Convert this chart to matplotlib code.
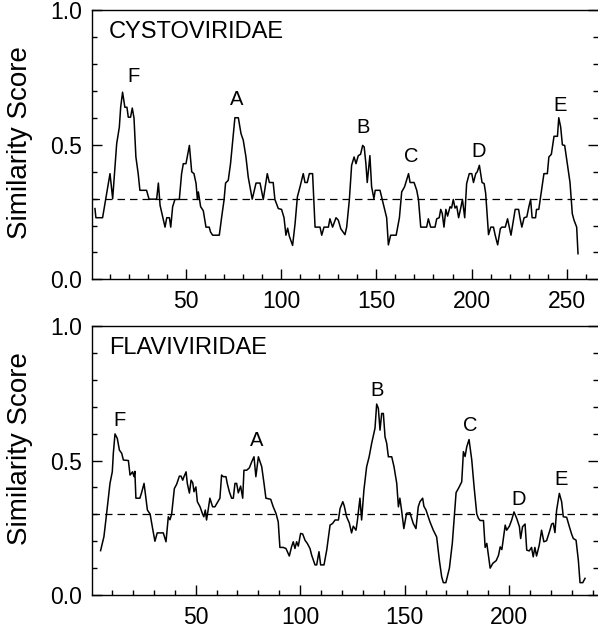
import matplotlib
matplotlib.use("Agg")
import matplotlib.pyplot as plt
from matplotlib.ticker import MultipleLocator, FixedLocator

plt.rcParams["font.family"] = ["Liberation Sans", "DejaVu Sans"]

# Cystoviridae similarity profile (position, score)
cysto_x = [
    2.2, 2.7, 6.2, 10.1, 11.5, 13.6, 15.0, 15.7, 16.7, 17.9, 19.0, 19.7, 20.9, 21.8, 22.7,
    23.7, 24.9, 25.8, 29.3, 30.6, 34.6, 35.5, 36.4, 37.8, 39.0, 39.9, 41.3, 42.0, 43.0, 44.2,
    46.5, 47.7, 48.6, 50.0, 51.8, 53.0, 54.2, 55.3, 56.0, 56.5, 57.7, 59.1, 60.5, 62.2, 62.9,
    64.0, 67.5, 68.7, 70.0, 70.8, 72.2, 73.4, 75.7, 77.5, 78.9, 80.1, 81.5, 82.7, 83.6, 84.8,
    86.8, 88.9, 90.6, 92.7, 93.8, 95.8, 96.7, 98.5, 100.2, 101.5, 102.5, 103.4, 104.3, 106.0,
    107.3, 108.5, 109.9, 111.6, 112.5, 113.7, 114.8, 116.5, 117.8, 120.4, 121.3, 122.5, 124.8,
    125.6, 127.0, 128.8, 130.0, 131.3, 133.5, 134.4, 135.8, 137.0, 138.3, 139.3, 140.5, 141.7,
    142.8, 143.6, 144.5, 145.2, 146.6, 147.5, 148.7, 149.4, 151.9, 153.3, 155.4, 156.3, 157.5,
    160.4, 162.1, 163.3, 164.8, 166.9, 167.7, 169.8, 171.2, 172.1, 173.3, 176.4, 177.3, 178.5,
    180.8, 181.7, 183.0, 183.8, 184.6, 185.5, 186.5, 187.4, 188.7, 189.5, 190.4, 191.3, 192.2,
    193.2, 194.3, 195.2, 196.4, 197.4, 198.8, 200.1, 201.0, 202.2, 203.0, 204.1, 205.5, 206.6,
    207.4, 208.9, 210.1, 211.5, 212.4, 213.7, 215.1, 215.9, 217.7, 218.9, 220.7, 222.1, 222.9,
    224.7, 225.4, 226.4, 227.6, 229.0, 230.1, 231.0, 231.8, 233.6, 234.1, 235.3, 236.6, 238.0,
    239.8, 240.6, 241.9, 243.3, 245.1, 245.8, 246.8, 247.7, 248.9, 250.3, 251.7, 252.9, 253.8,
    255.2, 255.9,
]
cysto_y = [
    0.263, 0.229, 0.229, 0.393, 0.300, 0.504, 0.566, 0.640, 0.696, 0.640, 0.640, 0.603, 0.603, 0.637, 0.600,
    0.455, 0.393, 0.331, 0.331, 0.298, 0.298, 0.358, 0.275, 0.232, 0.194, 0.229, 0.229, 0.194, 0.270, 0.297,
    0.297, 0.393, 0.430, 0.430, 0.498, 0.400, 0.393, 0.356, 0.297, 0.325, 0.270, 0.255, 0.194, 0.194, 0.176,
    0.164, 0.164, 0.229, 0.295, 0.358, 0.368, 0.430, 0.601, 0.601, 0.542, 0.517, 0.455, 0.380, 0.344, 0.298,
    0.358, 0.358, 0.297, 0.393, 0.360, 0.360, 0.297, 0.263, 0.260, 0.229, 0.164, 0.190, 0.160, 0.126,
    0.207, 0.306, 0.344, 0.393, 0.360, 0.360, 0.393, 0.393, 0.194, 0.194, 0.164, 0.194, 0.194,
    0.225, 0.194, 0.229, 0.220, 0.188, 0.166, 0.194, 0.295, 0.424, 0.455, 0.430, 0.460, 0.465,
    0.498, 0.492, 0.430, 0.360, 0.460, 0.344, 0.300, 0.331, 0.331, 0.290, 0.229, 0.128, 0.164,
    0.164, 0.229, 0.325, 0.344, 0.393, 0.360, 0.360, 0.331, 0.297, 0.194, 0.194, 0.225, 0.194,
    0.194, 0.225, 0.229, 0.260, 0.245, 0.194, 0.260, 0.235, 0.270, 0.265, 0.297, 0.265, 0.272,
    0.229, 0.265, 0.297, 0.229, 0.356, 0.393, 0.393, 0.360, 0.393, 0.400, 0.424, 0.360, 0.356,
    0.320, 0.166, 0.194, 0.194, 0.164, 0.128, 0.188, 0.194, 0.194, 0.225, 0.164, 0.225, 0.260,
    0.260, 0.229, 0.194, 0.229, 0.232, 0.270, 0.297, 0.229, 0.229, 0.260, 0.260, 0.325, 0.393,
    0.393, 0.455, 0.465, 0.532, 0.532, 0.601, 0.566, 0.500, 0.498, 0.430, 0.360, 0.244, 0.220,
    0.194, 0.095,
]

# Flaviviridae similarity profile (position, score)
flavi_x = [
    4.5, 6.1, 7.4, 9.0, 10.1, 10.6, 11.4, 12.5, 13.5, 14.6, 15.4, 17.8, 18.6, 19.8, 20.5, 20.9,
    21.4, 23.3, 24.1, 25.3, 26.2, 26.9, 28.2, 29.4, 30.5, 31.6, 34.5, 35.8, 36.9, 37.7, 38.5,
    39.8, 40.9, 42.2, 43.0, 43.8, 44.4, 45.4, 46.0, 47.0, 47.8, 48.6, 49.2, 50.1, 50.8, 52.1,
    53.3, 53.9, 54.6, 55.2, 56.0, 56.8, 58.1, 59.2, 60.3, 61.6, 62.4, 63.2, 64.5, 65.1, 66.1,
    67.2, 68.0, 68.8, 69.6, 70.4, 71.5, 72.5, 73.1, 74.4, 75.7, 76.8, 77.9, 78.8, 80.0, 81.6,
    82.7, 83.6, 85.9, 87.1, 88.4, 89.5, 90.3, 91.9, 93.2, 94.8, 95.9, 96.7, 97.5, 98.3, 99.1,
    100.2, 101.2, 102.3, 103.4, 104.7, 105.5, 107.1, 107.9, 109.0, 109.8, 111.4, 112.7, 114.3,
    115.5, 116.7, 118.3, 119.1, 120.4, 121.1, 122.2, 123.5, 124.6, 125.4, 126.7, 127.3, 128.6,
    129.4, 130.5, 131.8, 133.0, 134.2, 135.8, 136.6, 137.4, 138.2, 139.0, 139.8, 140.6, 141.4,
    142.2, 143.8, 144.9, 146.2, 147.0, 147.7, 148.5, 149.6, 150.9, 152.5, 154.1, 155.4, 156.5,
    157.3, 158.6, 159.2, 160.2, 162.1, 163.7, 165.3, 166.6, 167.7, 168.5, 169.7, 171.4, 172.8,
    173.6, 174.6, 175.7, 177.3, 178.1, 178.9, 179.7, 180.8, 182.1, 183.2, 184.5, 185.3, 186.1,
    187.7, 188.5, 189.3, 190.9, 192.2, 193.8, 194.9, 195.7, 196.5, 198.1, 198.8, 200.1, 201.2,
    202.3, 203.6, 204.9, 205.5, 206.4, 207.6, 208.4, 209.6, 210.7, 211.5, 212.3, 213.1, 214.4,
    215.5, 216.6, 217.9, 219.5, 220.3, 221.1, 221.9, 222.7, 224.0, 225.1, 225.9, 227.5, 228.8,
    229.9, 230.7, 232.0, 233.1, 233.9, 235.2, 236.3,
]
flavi_y = [
    0.165, 0.217, 0.304, 0.415, 0.458, 0.527, 0.599, 0.582, 0.539, 0.527, 0.502, 0.500, 0.446, 0.458, 0.440, 0.460,
    0.360, 0.360, 0.380, 0.415, 0.360, 0.316, 0.301, 0.247, 0.200, 0.231, 0.231, 0.198, 0.291, 0.280, 0.301,
    0.396, 0.412, 0.442, 0.442, 0.427, 0.440, 0.458, 0.415, 0.379, 0.427, 0.417, 0.384, 0.402, 0.347, 0.328,
    0.301, 0.291, 0.316, 0.279, 0.318, 0.360, 0.328, 0.328, 0.343, 0.360, 0.446, 0.440, 0.440, 0.415, 0.384,
    0.360, 0.360, 0.415, 0.415, 0.380, 0.405, 0.360, 0.464, 0.464, 0.473, 0.495, 0.514, 0.440, 0.514, 0.477,
    0.415, 0.360, 0.356, 0.328, 0.304, 0.272, 0.177, 0.177, 0.173, 0.145, 0.180, 0.198, 0.173, 0.198, 0.182,
    0.229, 0.227, 0.204, 0.192, 0.173, 0.148, 0.112, 0.112, 0.161, 0.112, 0.112, 0.167, 0.260,
    0.266, 0.279, 0.279, 0.322, 0.347, 0.331, 0.291, 0.268, 0.231, 0.256, 0.241, 0.272, 0.360,
    0.279, 0.391, 0.477, 0.514, 0.564, 0.620, 0.710, 0.694, 0.613, 0.675, 0.675, 0.588, 0.564,
    0.514, 0.514, 0.477, 0.415, 0.328, 0.360, 0.316, 0.247, 0.304, 0.306, 0.266, 0.247, 0.328,
    0.347, 0.360, 0.330, 0.316, 0.272, 0.241, 0.216, 0.129, 0.068, 0.046, 0.046, 0.100, 0.193,
    0.279, 0.381, 0.396, 0.421, 0.533, 0.515, 0.551, 0.578, 0.502, 0.403, 0.301, 0.285, 0.277,
    0.277, 0.177, 0.192, 0.100, 0.118, 0.128, 0.148, 0.179, 0.169, 0.260, 0.241, 0.256, 0.279,
    0.309, 0.285, 0.254, 0.210, 0.254, 0.264, 0.167, 0.164, 0.177, 0.142, 0.177, 0.145, 0.186,
    0.241, 0.198, 0.202, 0.241, 0.264, 0.267, 0.232, 0.315, 0.378, 0.347, 0.291, 0.289, 0.254,
    0.226, 0.210, 0.204, 0.129, 0.046, 0.046, 0.062,
]

threshold = 0.3

cysto_peaks = ["F", "A", "B", "C", "D", "E"]
cysto_peak_x = [22.2, 76.8, 143.0, 168.2, 203.9, 246.4]
cysto_peak_y = [0.753, 0.667, 0.563, 0.455, 0.474, 0.648]

flavi_peaks = ["F", "A", "B", "C", "D", "E"]
flavi_peak_x = [13.4, 79.2, 136.6, 181.2, 204.7, 224.6]
flavi_peak_y = [0.65, 0.576, 0.762, 0.632, 0.357, 0.428]

panels = [
    ("CYSTOVIRIDAE", cysto_x, cysto_y, cysto_peaks, cysto_peak_x, cysto_peak_y,
     (0.63, 266.4), 260, [0.1538, 0.5553, 0.8462, 0.4280], 0.51),
    ("FLAVIVIRIDAE", flavi_x, flavi_y, flavi_peaks, flavi_peak_x, flavi_peak_y,
     (0.38, 242.5), 240, [0.1538, 0.0525, 0.8462, 0.4283], 0.545),
]

fig = plt.figure(figsize=(5.98, 6.28), dpi=100)

for name, xs, ys, peaks, px, py, xlim, xmax_minor, rect, ylab_y in panels:
    ax = fig.add_axes(rect)
    ax.plot(xs, ys, color="black", linewidth=1.1)
    ax.axhline(threshold, color="black", linewidth=0.9, linestyle=(0, (6, 4)))
    for lab, x, y in zip(peaks, px, py):
        ax.text(x, y, lab, fontsize=14.5, ha="center", va="center")
    ax.text(0.034, 0.92, name, transform=ax.transAxes, fontsize=17, ha="left", va="center")

    ax.set_xlim(*xlim)
    ax.set_ylim(0, 1.0)
    ax.xaxis.set_major_locator(FixedLocator([50, 100, 150, 200, 250]))
    ax.xaxis.set_minor_locator(FixedLocator(range(10, xmax_minor + 1, 10)))
    ax.yaxis.set_major_locator(FixedLocator([0.0, 0.5, 1.0]))
    ax.yaxis.set_minor_locator(MultipleLocator(0.1))
    ax.set_yticklabels(["0.0", "0.5", "1.0"])

    ax.tick_params(axis="both", which="both", direction="in", labelsize=16.5, width=1.0)
    ax.tick_params(axis="both", which="major", length=7)
    ax.tick_params(axis="both", which="minor", length=3.5)
    ax.tick_params(axis="y", which="both", left=True, right=True, pad=7)
    ax.tick_params(axis="x", which="both", top=False, pad=8)

    ax.spines["right"].set_visible(False)
    for side in ["left", "bottom", "top"]:
        ax.spines[side].set_linewidth(1.0)

    ax.set_ylabel("Similarity Score", fontsize=20)
    ax.yaxis.set_label_coords(-0.117, ylab_y)

fig.savefig("out.png", dpi=100)
